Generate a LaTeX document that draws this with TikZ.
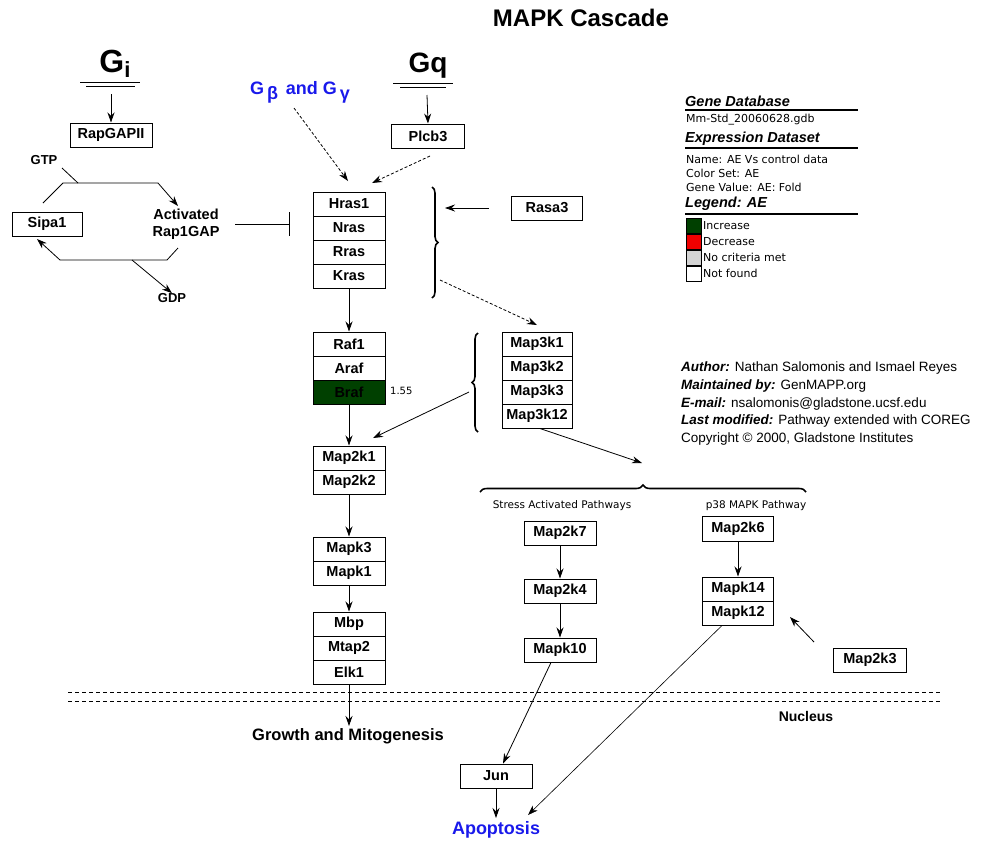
\documentclass[tikz,border=0pt]{standalone}
\usepackage{fontspec}
\setmainfont{Liberation Sans}
\newfontfamily\smallfont{DejaVu Sans}
\usetikzlibrary{arrows.meta,decorations.pathreplacing}
\definecolor{incgreen}{RGB}{0,64,0}
\definecolor{gblue}{RGB}{25,25,235}
\definecolor{nogray}{RGB}{212,212,212}
\definecolor{decred}{RGB}{240,0,0}
\begin{document}
\begin{tikzpicture}[x=1pt,y=-1pt,
  gene/.style={draw, line width=1pt, minimum width=72pt, minimum height=24pt, inner sep=0pt,
    font=\fontsize{14.5}{15}\selectfont\bfseries},
  arr/.style={line width=0.8pt, -{Stealth[length=10pt,width=7pt]}},
  darr/.style={arr, dash pattern=on 3pt off 2pt},
  plain/.style={line width=0.8pt},
  lbl/.style={font=\fontsize{14}{16}\selectfont\bfseries, inner sep=0pt, align=center},
  small/.style={font=\smallfont\fontsize{11}{12}\selectfont, inner sep=0pt, anchor=west},
  head/.style={font=\fontsize{14.5}{15}\selectfont\bfseries\itshape, inner sep=0pt, anchor=west},
  auth/.style={font=\fontsize{13.5}{14}\selectfont, inner sep=0pt, anchor=west},
  brc/.style={decorate, decoration={brace, amplitude=6pt}, line width=1.6pt},
  swatch/.style={draw, line width=0.8pt, minimum width=15pt, minimum height=15pt, inner sep=0pt},
]
\useasboundingbox (0,0) rectangle (985,844);

% Title
\node[font=\fontsize{24}{24}\selectfont\bfseries, inner sep=0pt] (title) at (581,18) {MAPK Cascade};

% Gi branch
\node[inner sep=0pt, anchor=base] (gi) at (115,72) {\fontsize{32}{32}\selectfont\bfseries G\raisebox{-5pt}{\fontsize{22}{22}\selectfont\bfseries i}};
\draw[plain] (80,82) -- (140,82);
\draw[plain] (86,86) -- (135,86);
\coordinate (gistart) at (111,94);
\node[gene, minimum width=82pt] (rapgap) at (111,135) {RapGAPII};
\draw[arr] (gistart) -- (rapgap.north);

\node[lbl, font=\fontsize{13}{14}\selectfont\bfseries] (gtp) at (44,160) {GTP};
\node[gene, minimum width=70pt] (sipa) at (47,224) {Sipa1};
\node[lbl, font=\fontsize{14.5}{16}\selectfont\bfseries] (act) at (186,224) {Activated\\[1pt]Rap1GAP};
\node[lbl, font=\fontsize{13}{14}\selectfont\bfseries] (gdp) at (172,298) {GDP};

\coordinate (t1) at (43,203);
\coordinate (t2) at (63,183);
\coordinate (t3) at (158,183);
\coordinate (t4) at (178,206);
\draw[plain] (t1) -- (t2) -- (t3);
\draw[arr] (t3) -- (t4);
\coordinate (gtpl) at (62,168);
\coordinate (gtpj) at (78,183);
\draw[plain] (gtpl) -- (gtpj);

\coordinate (b1) at (178,248);
\coordinate (b2) at (167,260);
\coordinate (b3) at (60,260);
\coordinate (b4) at (37,239);
\draw[plain] (b1) -- (b2) -- (b3);
\draw[arr] (b3) -- (b4);
\coordinate (gdpj) at (132,260);
\draw[arr] (gdpj) -- (gdp.north);

% inhibition
\coordinate (inh1) at (235,224);
\coordinate (inh2) at (289,224);
\draw[plain] (inh1) -- (inh2);
\draw[line width=1pt] (289,212) -- (289,236);

% G beta gamma
\node[inner sep=0pt, text=gblue, font=\fontsize{18}{18}\selectfont\bfseries] (gbg) at (300,92)
  {G\,\raisebox{-5pt}{β}\, and G\,\raisebox{-5pt}{γ}};
% Gq
\node[inner sep=0pt, anchor=base] (gq) at (428,72) {\fontsize{28}{28}\selectfont\bfseries Gq};
\draw[plain] (393,83) -- (453,83);
\draw[plain] (400,87) -- (446,87);
\coordinate (gqstart) at (427,95);
\node[gene, minimum width=73pt] (plcb) at (428,136) {Plcb3};
\draw[arr] (gqstart) -- (plcb.north);

% Ras stack
\node[gene] (hras) at (349,204) {Hras1};
\node[gene] (nras) at (349,228) {Nras};
\node[gene] (rras) at (349,252) {Rras};
\node[gene] (kras) at (349,276) {Kras};
\coordinate (gbgend) at (294,108);
\draw[darr] (gbgend) -- (348,181);
\coordinate (plcbend) at (430,156);
\draw[darr] (plcbend) -- (372,183);

\draw[brc] (432,187) -- (432,298);
\node[gene, minimum width=71pt] (rasa) at (547,208) {Rasa3};
\coordinate (rasastart) at (489,208);
\draw[arr] (rasastart) -- (445,208);
\coordinate (rasbr) at (440,280);
\coordinate (map3ktop) at (537,325);
\draw[darr] (rasbr) -- (map3ktop);

% Raf stack
\node[gene] (raf1) at (349,344) {Raf1};
\node[gene] (araf) at (349,368) {Araf};
\node[gene, fill=incgreen] (braf) at (349,392) {Braf};
\draw[arr] (kras.south) -- (raf1.north);
\node[font=\smallfont\fontsize{10}{10}\selectfont, inner sep=0pt, anchor=west] (val) at (390,391) {1.55};

% Map3k stack
\node[gene, minimum width=70pt] (m3k1) at (537,344) {Map3k1};
\node[gene, minimum width=70pt] (m3k2) at (537,368) {Map3k2};
\node[gene, minimum width=70pt] (m3k3) at (537,392) {Map3k3};
\node[gene, minimum width=70pt] (m3k12) at (537,416) {Map3k12};
\draw[brc] (478,432) -- (478,333);

% Map2k1 stack
\node[gene] (m2k1) at (349,458) {Map2k1};
\node[gene] (m2k2) at (349,482) {Map2k2};
\draw[arr] (braf.south) -- (m2k1.north);
\coordinate (m3kbr) at (469,392);
\draw[arr] (m3kbr) -- (373,438);

% Mapk3
\node[gene] (mapk3) at (349,549) {Mapk3};
\node[gene] (mapk1) at (349,573) {Mapk1};
\draw[arr] (m2k2.south) -- (mapk3.north);

% Mbp
\node[gene] (mbp) at (349,624) {Mbp};
\node[gene] (mtap) at (349,648) {Mtap2};
\node[gene] (elk) at (349,672) {Elk1};
\draw[arr] (mapk1.south) -- (mbp.north);

\node[inner sep=0pt, font=\fontsize{16.5}{16.5}\selectfont\bfseries] (growth) at (348,736) {Growth and Mitogenesis};
\coordinate (growthtop) at (349,726);
\draw[arr] (elk.south) -- (growthtop);

% horizontal brace
\draw[brc, decoration={brace, amplitude=7pt}] (480,492) -- (806,492);
\coordinate (hbtip) at (642,463);
\draw[arr] ([xshift=3pt]m3k12.south) -- (hbtip);

\node[font=\smallfont\fontsize{10.5}{11}\selectfont, inner sep=0pt] (stress) at (562,506) {Stress Activated Pathways};
\node[font=\smallfont\fontsize{10.5}{11}\selectfont, inner sep=0pt] (p38) at (756,506) {p38 MAPK Pathway};

% Stress column
\node[gene] (m2k7) at (560,533) {Map2k7};
\node[gene] (m2k4) at (560,591) {Map2k4};
\node[gene] (mapk10) at (560,650) {Mapk10};
\draw[arr] (m2k7.south) -- (m2k4.north);
\draw[arr] (m2k4.south) -- (mapk10.north);

% p38 column
\node[gene, minimum width=71pt, minimum height=25pt] (m2k6) at (738,529) {Map2k6};
\node[gene, minimum width=71pt] (mapk14) at (738,589) {Mapk14};
\node[gene, minimum width=71pt] (mapk12) at (738,613) {Mapk12};
\draw[arr] (m2k6.south) -- (mapk14.north);
\node[gene, minimum width=73pt] (m2k3) at (870,660) {Map2k3};
\coordinate (m2k3s) at (814,642);
\draw[arr] (m2k3s) -- (790,617);

% nucleus
\draw[line width=0.8pt, dash pattern=on 4pt off 3pt] (68,692) -- (940,692);
\draw[line width=0.8pt, dash pattern=on 4pt off 3pt] (68,701) -- (940,701);
\node[inner sep=0pt, font=\fontsize{14}{14}\selectfont\bfseries] (nucleus) at (806,716) {Nucleus};

\node[gene] (jun) at (496,776) {Jun};
\node[inner sep=0pt, text=gblue, font=\fontsize{18}{18}\selectfont\bfseries] (apop) at (496,830) {Apoptosis};
\coordinate (apoptop) at (496,818);
\draw[arr] ([xshift=-9pt]mapk10.south) -- ([xshift=7pt]jun.north);
\draw[arr] (jun.south) -- (apoptop);
\coordinate (apopright) at (528,815);
\draw[arr, line width=0.6pt] ([xshift=-16pt]mapk12.south) -- (apopright);

% Legend
\node[head] (gdb) at (685,101) {Gene Database};
\draw[line width=2pt] (685,110) -- (858,110);
\node[small] (gdbv) at (686,120) {Mm-Std\_20060628.gdb};
\node[head] (eds) at (685,139) {Expression Dataset};
\draw[line width=2pt] (685,148) -- (858,148);
\node[small] (eds1) at (686,159) {Name: AE Vs control data};
\node[small] (eds2) at (686,173) {Color Set: AE};
\node[small] (eds3) at (686,187) {Gene Value: AE: Fold};
\node[head] (leg) at (685,204) {Legend: AE};
\draw[line width=2pt] (685,214) -- (858,214);
\node[swatch, fill=incgreen] (s1) at (693.5,225.5) {};
\node[swatch, fill=decred] (s2) at (693.5,241.5) {};
\node[swatch, fill=nogray] (s3) at (693.5,257.5) {};
\node[swatch, fill=white] (s4) at (693.5,273.5) {};
\node[small, anchor=west] (l1) at (703,225.5) {Increase};
\node[small, anchor=west] (l2) at (703,241.5) {Decrease};
\node[small, anchor=west] (l3) at (703,257.5) {No criteria met};
\node[small, anchor=west] (l4) at (703,273.5) {Not found};

% Author block
\node[auth] (a1) at (681,368) {\textbf{\textit{Author:}} Nathan Salomonis and Ismael Reyes};
\node[auth] (a2) at (681,386) {\textbf{\textit{Maintained by:}} GenMAPP.org};
\node[auth] (a3) at (681,404) {\textbf{\textit{E-mail:}} nsalomonis@gladstone.ucsf.edu};
\node[auth] (a4) at (681,421) {\textbf{\textit{Last modified:}} Pathway extended with COREG};
\node[auth] (a5) at (681,439) {Copyright © 2000, Gladstone Institutes};
\end{tikzpicture}
\end{document}
